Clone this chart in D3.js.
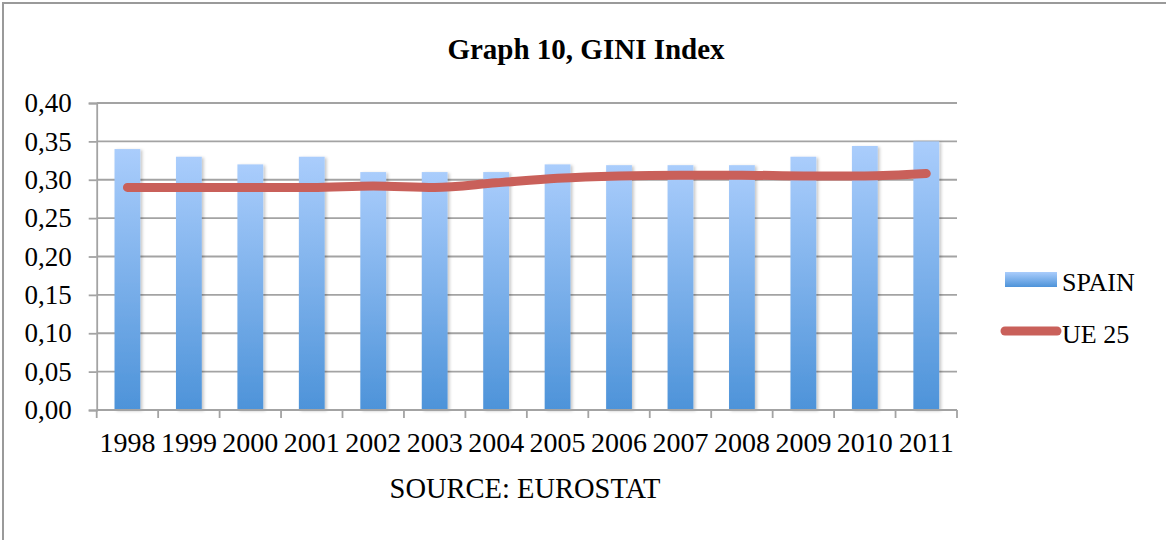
<!DOCTYPE html>
<html>
<head>
<meta charset="utf-8">
<script src="https://cdn.jsdelivr.net/npm/d3@7"></script>
<style>
  html, body { margin: 0; padding: 0; background: #fff; }
  svg { display: block; font-family: "Liberation Serif", "Times New Roman", serif; }
</style>
</head>
<body>
<div id="chart"></div>
<script>
// data
const years = ["1998", "1999", "2000", "2001", "2002", "2003", "2004",
               "2005", "2006", "2007", "2008", "2009", "2010", "2011"];
const spain = [0.340, 0.330, 0.320, 0.330, 0.310, 0.310, 0.310,
               0.320, 0.319, 0.319, 0.319, 0.330, 0.344, 0.350];
const ue25 = [0.290, 0.290, 0.290, 0.290, 0.292, 0.290, 0.296,
              0.302, 0.305, 0.306, 0.306, 0.305, 0.305, 0.308];
const yTicks = [0, 0.05, 0.10, 0.15, 0.20, 0.25, 0.30, 0.35, 0.40];

function drawChart() {
    const W = 1166, H = 540;
    const plot = {left: 96.7, right: 957, top: 103, bottom: 410};

    const svg = d3.select("#chart")
        .append("svg")
        .attr("width", W)
        .attr("height", H);

    // gradient for the bars + a soft shadow
    const defs = svg.append("defs");
    const grad = defs.append("linearGradient")
        .attr("id", "barGrad")
        .attr("x1", 0).attr("y1", 0).attr("x2", 0).attr("y2", 1);
    grad.append("stop").attr("offset", "0%").attr("stop-color", "#aacdfc");
    grad.append("stop").attr("offset", "100%").attr("stop-color", "#4d93d9");

    const legGrad = defs.append("linearGradient")
        .attr("id", "legGrad")
        .attr("x1", 0).attr("y1", 0).attr("x2", 0).attr("y2", 1);
    legGrad.append("stop").attr("offset", "0%").attr("stop-color", "#aacdfc");
    legGrad.append("stop").attr("offset", "100%").attr("stop-color", "#4d93d9");

    const shadow = defs.append("filter").attr("id", "shadow")
        .attr("x", "-20%").attr("y", "-5%").attr("width", "150%").attr("height", "115%");
    shadow.append("feDropShadow")
        .attr("dx", 2).attr("dy", 1).attr("stdDeviation", 1.5)
        .attr("flood-color", "#000").attr("flood-opacity", 0.22);

    // outer frame (right and bottom run off the page)
    svg.append("rect")
        .attr("x", 3).attr("y", 3)
        .attr("width", W + 20).attr("height", H + 20)
        .attr("fill", "none")
        .attr("stroke", "#9a9a9a")
        .attr("stroke-width", 2);

    // title
    svg.append("text")
        .attr("x", 586).attr("y", 59)
        .attr("text-anchor", "middle")
        .style("font-size", "29px")
        .style("font-weight", "bold")
        .text("Graph 10, GINI Index");

    // scales
    const xCat = d3.scaleBand()
        .domain(years)
        .range([plot.left, plot.right])
        .padding(0);

    const xBar = d3.scaleBand()
        .domain(years)
        .range([plot.left, plot.right])
        .paddingInner(0.58)
        .paddingOuter(0.29);

    const y = d3.scaleLinear()
        .domain([0, 0.40])
        .range([plot.bottom, plot.top]);

    // horizontal gridlines
    svg.append("g")
        .selectAll("line")
        .data(yTicks.slice(1))
        .join("line")
        .attr("x1", plot.left).attr("x2", plot.right)
        .attr("y1", d => y(d)).attr("y2", d => y(d))
        .attr("stroke", "#a3a3a3")
        .attr("stroke-width", 1.8);

    // y axis
    const yAxis = svg.append("g")
        .attr("transform", `translate(${plot.left},0)`)
        .call(d3.axisLeft(y)
            .tickValues(yTicks)
            .tickSize(8)
            .tickPadding(17)
            .tickFormat(d => d.toFixed(2).replace(".", ",")));
    yAxis.select(".domain").attr("stroke", "#a3a3a3").attr("stroke-width", 1.8);
    yAxis.selectAll(".tick line").attr("stroke", "#a3a3a3").attr("stroke-width", 1.8);
    yAxis.selectAll("text")
        .attr("fill", "#000")
        .style("font-size", "27px")
        .style("font-family", "Liberation Serif, serif");

    // bars
    svg.append("g")
        .selectAll("rect")
        .data(years.map((yr, i) => ({yr, v: spain[i]})))
        .join("rect")
        .attr("x", d => xBar(d.yr))
        .attr("width", xBar.bandwidth())
        .attr("y", d => y(d.v))
        .attr("height", d => y(0) - y(d.v))
        .attr("fill", "url(#barGrad)")
        .attr("filter", "url(#shadow)");

    // x axis: line, ticks between categories, labels
    const xAxis = svg.append("g");
    xAxis.append("line")
        .attr("x1", plot.left).attr("x2", plot.right)
        .attr("y1", plot.bottom).attr("y2", plot.bottom)
        .attr("stroke", "#a3a3a3").attr("stroke-width", 1.8);
    const boundaries = years.map(d => xCat(d)).concat([plot.right]);
    xAxis.selectAll(".xtick")
        .data(boundaries)
        .join("line")
        .attr("class", "xtick")
        .attr("x1", d => d).attr("x2", d => d)
        .attr("y1", plot.bottom).attr("y2", plot.bottom + 8)
        .attr("stroke", "#a3a3a3").attr("stroke-width", 1.8);
    xAxis.selectAll(".xlabel")
        .data(years)
        .join("text")
        .attr("class", "xlabel")
        .attr("x", d => xCat(d) + xCat.bandwidth() / 2)
        .attr("y", 452)
        .attr("text-anchor", "middle")
        .style("font-size", "28px")
        .text(d => d);

    // axis title
    svg.append("text")
        .attr("x", 525).attr("y", 498)
        .attr("text-anchor", "middle")
        .style("font-size", "28.5px")
        .text("SOURCE: EUROSTAT");

    // UE 25 line
    const line = d3.line()
        .x(d => xCat(d.yr) + xCat.bandwidth() / 2)
        .y(d => y(d.v))
        .curve(d3.curveMonotoneX);

    svg.append("path")
        .datum(years.map((yr, i) => ({yr, v: ue25[i]})))
        .attr("fill", "none")
        .attr("stroke", "#c9605a")
        .attr("stroke-width", 9)
        .attr("stroke-linecap", "round")
        .attr("stroke-linejoin", "round")
        .attr("d", line);

    // legend
    const legend = svg.append("g");
    legend.append("rect")
        .attr("x", 1005).attr("y", 272)
        .attr("width", 52).attr("height", 15)
        .attr("fill", "url(#legGrad)");
    legend.append("text")
        .attr("x", 1062).attr("y", 291)
        .style("font-size", "26px")
        .text("SPAIN");
    legend.append("line")
        .attr("x1", 1005).attr("x2", 1057)
        .attr("y1", 331).attr("y2", 331)
        .attr("stroke", "#c9605a")
        .attr("stroke-width", 9)
        .attr("stroke-linecap", "round");
    legend.append("text")
        .attr("x", 1062).attr("y", 343)
        .style("font-size", "26px")
        .text("UE 25");
}

drawChart();
</script>
</body>
</html>
